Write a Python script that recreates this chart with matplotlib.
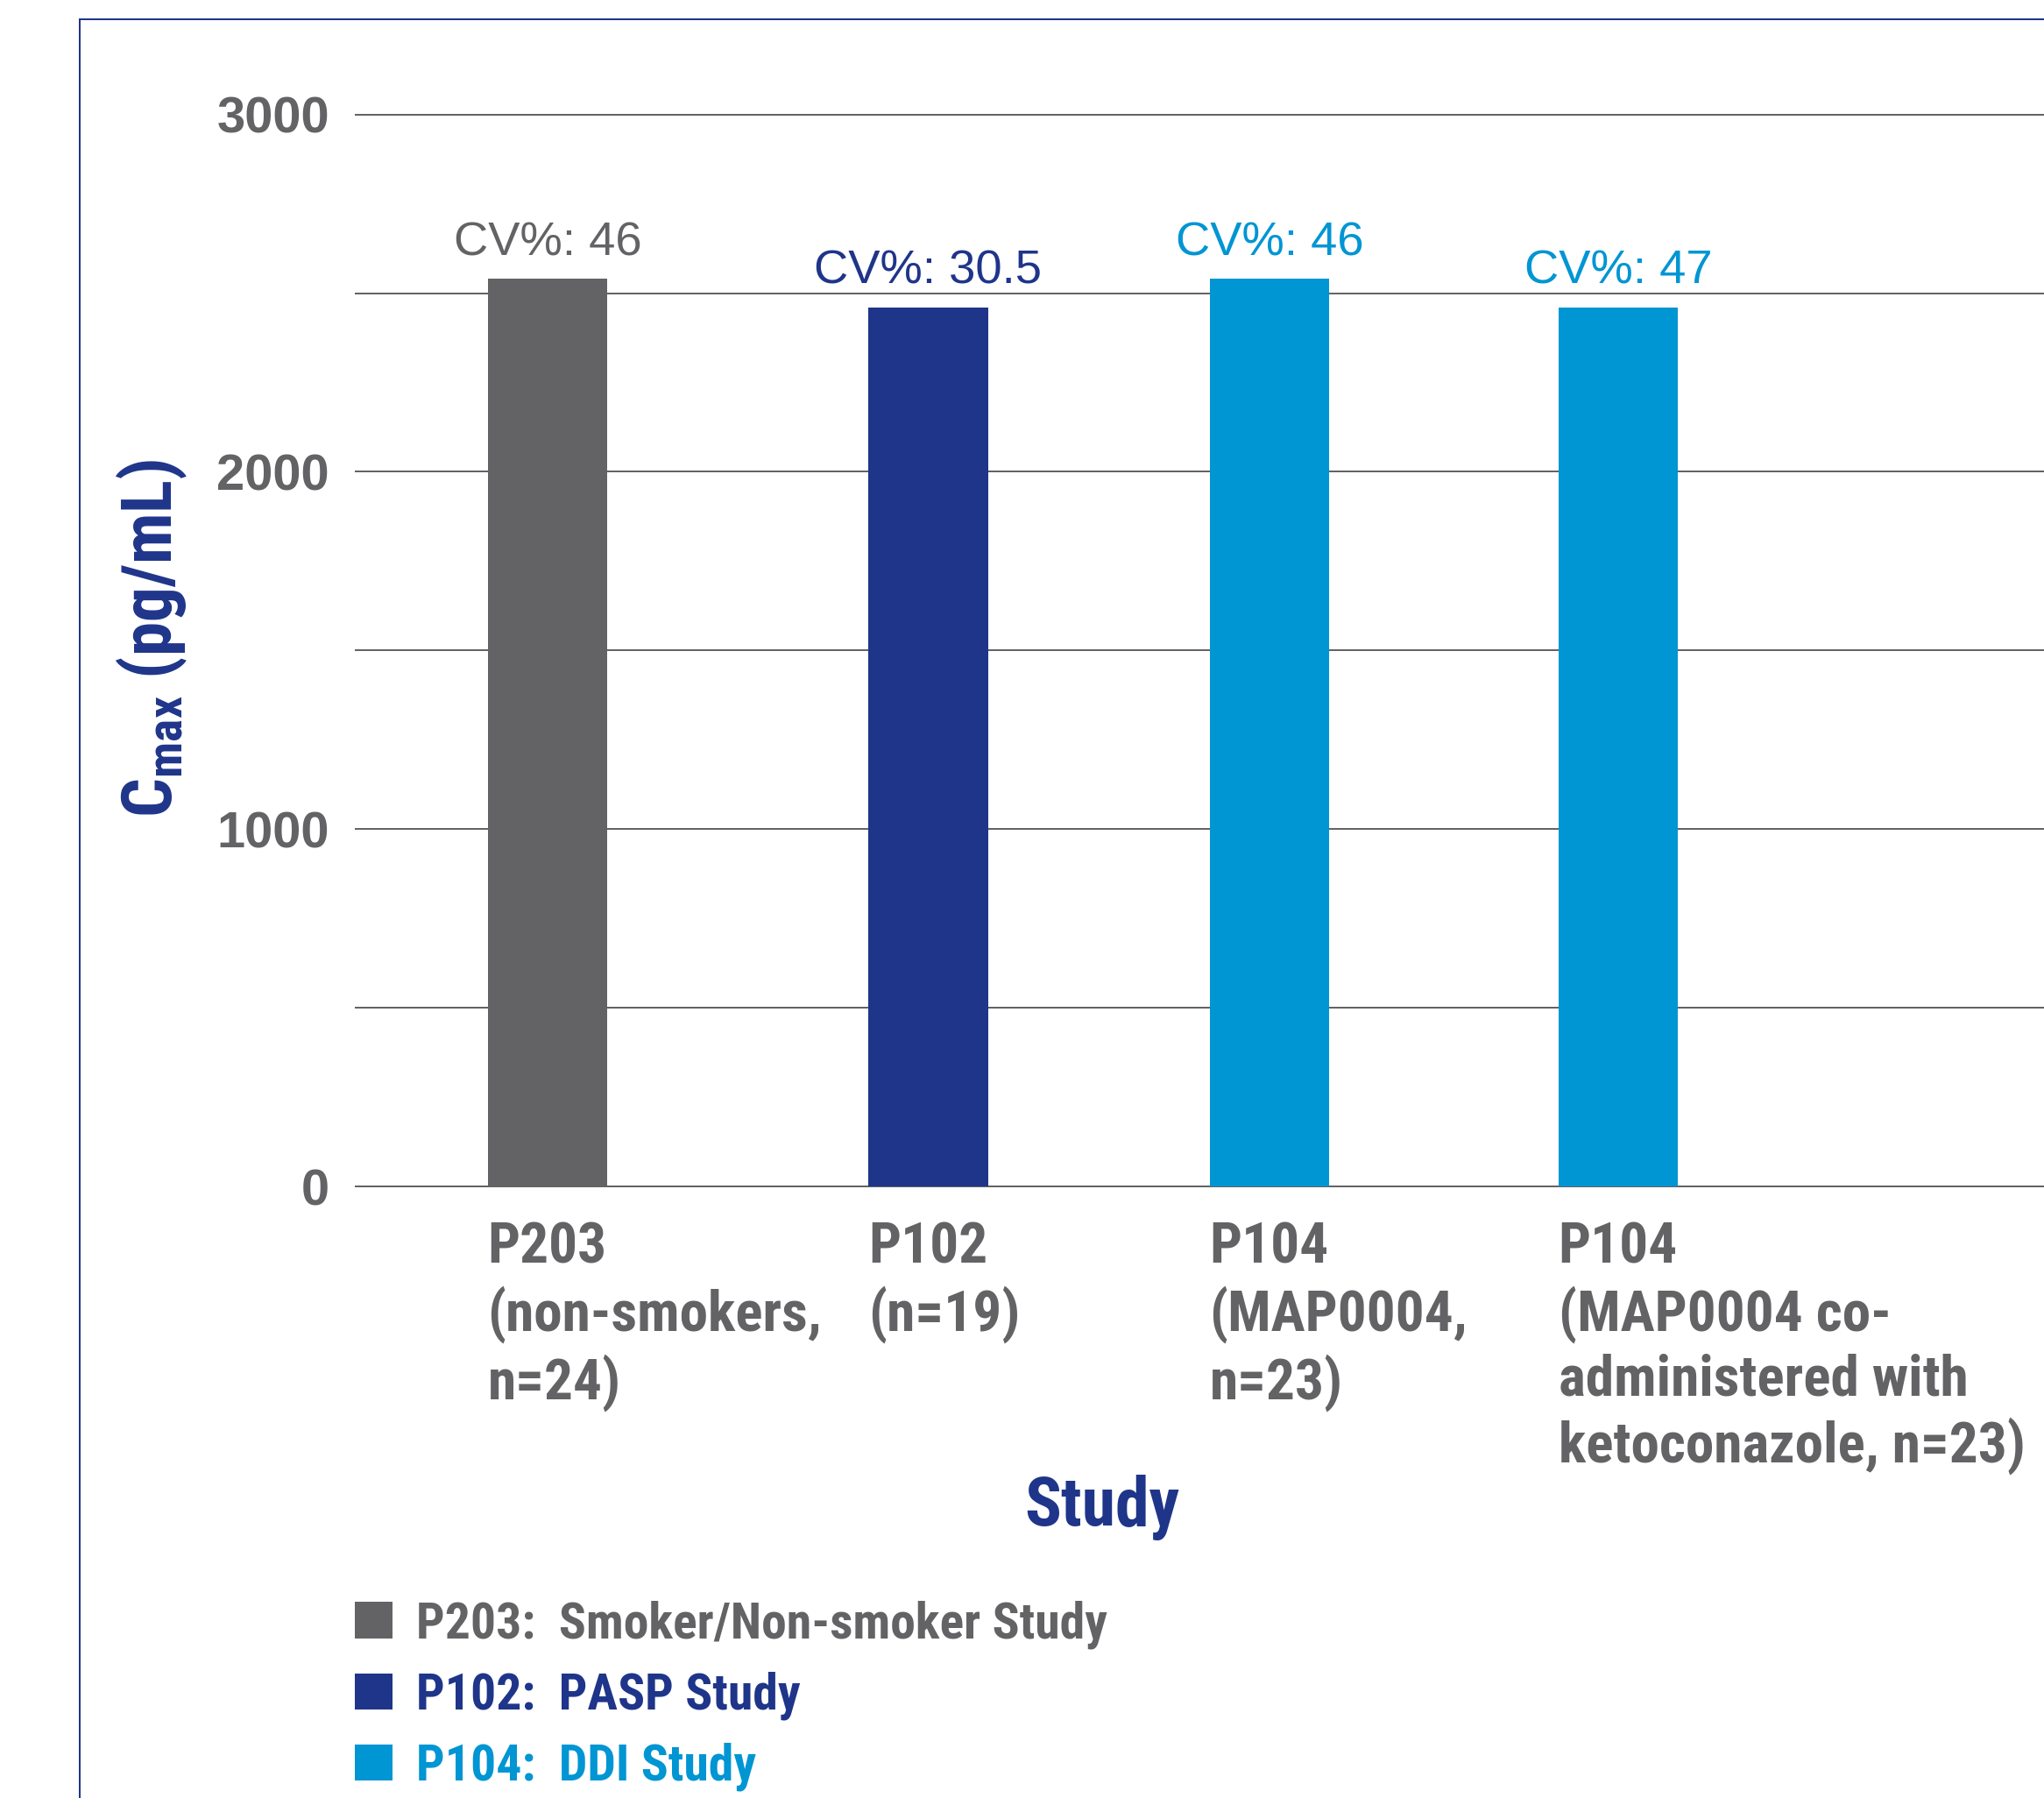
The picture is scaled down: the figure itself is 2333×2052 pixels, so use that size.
import numpy as np
import matplotlib as mpl
mpl.use('Agg')
import matplotlib.pyplot as plt
from matplotlib.patches import Rectangle
from matplotlib.font_manager import FontProperties

# Cmax by study
studies = ['P203\n(non-smokers,\nn=24)',
           'P102\n(n=19)',
           'P104\n(MAP0004,\nn=23)',
           'P104\n(MAP0004 co-\nadministered with\nketoconazole, n=23)']
bar_study = ['P203', 'P102', 'P104', 'P104']
cmax = [2540, 2460, 2540, 2460]
cv_pct = ['46', '30.5', '46', '47']
legend_labels = ['P203:  Smoker/Non-smoker Study',
                 'P102:  PASP Study',
                 'P104:  DDI Study']

gray = '#636366'
navy = '#1f358a'
blue = '#0095d3'
study_colors = {'P203': gray, 'P102': navy, 'P104': blue}

W, H, dpi = 2333, 2052, 100
px2pt = 72. / dpi
narrow = ['Roboto Condensed', 'PT Sans Narrow', 'DejaVu Sans']
wide = ['Liberation Sans', 'DejaVu Sans']

# vertical scale: 0 at y=1354px, 3000 at y=130.7px
ppu = (1354 - 130.7) / 3000.
ylo, yhi = -30, 3050
ax_bottom = 1354 + (0 - ylo) * ppu
ax_top = 1354 - yhi * ppu

fig = plt.figure(figsize=(W / dpi, H / dpi), dpi=dpi)
ax = fig.add_axes([405 / W, 1 - ax_bottom / H, 1 - 405 / W, (ax_bottom - ax_top) / H])

xpos = np.array([0., 1.066, 2.023, 3.])
width = 0.336
colors = [study_colors[s] for s in bar_study]
bars = ax.bar(xpos, cmax, width=width, color=colors, zorder=2)

# CV% above each bar
for x, h, cv, c in zip(xpos, cmax, cv_pct, colors):
    ax.annotate(f'CV%: {cv}', xy=(x, h), xytext=(0, 27 * px2pt),
                textcoords='offset points', ha='center', va='baseline',
                fontsize=39.2, family=wide, color=c)

ax.set_xlim(-0.540, 4.193)
ax.set_ylim(ylo, yhi)

# x labels start at the bar's left edge
ax.set_xticks(xpos - width / 2, studies, ha='left', fontsize=47,
              fontweight='bold', family=narrow, color=gray, linespacing=1.235)
ax.tick_params(axis='x', length=0, pad=(1394 - ax_bottom) * px2pt)

ax.set_yticks([0, 1000, 2000, 3000])
ax.set_yticks([500, 1500, 2500], minor=True)
ax.tick_params(axis='y', which='both', length=0, pad=29 * px2pt,
               labelsize=41.7, labelcolor=gray)
for t in ax.get_yticklabels():
    t.set_family(wide)
    t.set_fontweight('bold')

ax.grid(axis='y', which='both', color=gray, lw=2 * px2pt)
ax.grid(axis='x', visible=False)
ax.set_axisbelow(True)
for s in ax.spines.values():
    s.set_visible(False)

ax.set_xlabel('Study', fontsize=56, fontweight='bold', family=narrow,
              color=navy, va='baseline')
ax.xaxis.set_label_coords(1257.7 / W, 1 - 1741 / H, transform=fig.transFigure)
ax.set_ylabel(r'$\mathregular{C_{max}}$ (pg/mL)', fontsize=57,
              fontweight='bold', family=narrow, color=navy, va='baseline')
ax.yaxis.set_label_coords(196 / W, 1 - 728 / H, transform=fig.transFigure)

fs_leg = 41.5
leg = fig.legend(bars[:3], legend_labels, loc='upper left',
                 bbox_to_anchor=(404.8 / W, 1 - 1826 / H), frameon=False,
                 borderpad=0, borderaxespad=0, handlelength=0.75,
                 handleheight=0.73, handletextpad=0.47, labelspacing=0.45,
                 prop=FontProperties(family=narrow, weight='bold', size=fs_leg),
                 labelcolor=[gray, navy, blue])

# outer frame, open to the right and bottom
fig.add_artist(Rectangle((90.6 / W, -0.5), 2., 1.5 - 21.7 / H,
                         transform=fig.transFigure, fill=False,
                         edgecolor=navy, lw=2 * px2pt))

fig.savefig('out.png', dpi=dpi)
